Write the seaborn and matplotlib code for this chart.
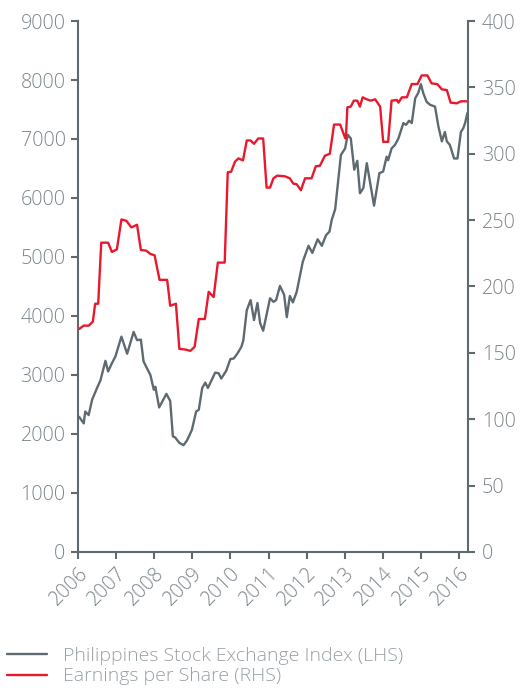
import seaborn as sns
import pandas as pd
import matplotlib.pyplot as plt
from matplotlib.lines import Line2D

# Philippines Stock Exchange Index (LHS) -- decimal year, index level
psei_year = [2006.03, 2006.15, 2006.19, 2006.28, 2006.37, 2006.50, 2006.59, 2006.72, 2006.79,
             2006.89, 2006.98, 2007.14, 2007.29, 2007.46, 2007.55, 2007.65, 2007.72, 2007.90,
             2007.99, 2008.03, 2008.13, 2008.32, 2008.42, 2008.49, 2008.55, 2008.66, 2008.77,
             2008.86, 2008.99, 2009.10, 2009.17, 2009.26, 2009.34, 2009.41, 2009.60, 2009.69,
             2009.76, 2009.89, 2010.00, 2010.09, 2010.20, 2010.29, 2010.34, 2010.43, 2010.53,
             2010.62, 2010.71, 2010.78, 2010.86, 2011.04, 2011.13, 2011.20, 2011.30, 2011.41,
             2011.48, 2011.56, 2011.64, 2011.74, 2011.90, 2012.05, 2012.15, 2012.29, 2012.40,
             2012.51, 2012.60, 2012.66, 2012.75, 2012.90, 2013.01, 2013.08, 2013.16, 2013.25,
             2013.33, 2013.40, 2013.49, 2013.58, 2013.77, 2013.91, 2014.01, 2014.10, 2014.14,
             2014.23, 2014.32, 2014.41, 2014.54, 2014.61, 2014.69, 2014.76, 2014.85, 2014.93,
             2015.00, 2015.06, 2015.15, 2015.24, 2015.37, 2015.46, 2015.55, 2015.63, 2015.68,
             2015.76, 2015.87, 2015.96, 2016.05, 2016.11, 2016.16, 2016.22]
psei_value = [2290, 2180, 2380, 2320, 2580, 2780, 2910, 3240, 3060,
              3200, 3310, 3650, 3360, 3730, 3590, 3600, 3230, 3000,
              2750, 2800, 2450, 2680, 2560, 1960, 1940, 1850, 1810,
              1890, 2070, 2380, 2410, 2780, 2870, 2780, 3040, 3030,
              2940, 3070, 3270, 3280, 3380, 3480, 3590, 4100, 4270,
              3930, 4220, 3880, 3750, 4300, 4240, 4270, 4510, 4360,
              3980, 4340, 4230, 4410, 4920, 5190, 5070, 5300, 5190,
              5370, 5430, 5630, 5810, 6730, 6840, 7070, 7010, 6480,
              6630, 6080, 6170, 6590, 5870, 6420, 6450, 6700, 6640,
              6840, 6900, 7010, 7270, 7240, 7310, 7270, 7690, 7780,
              7930, 7780, 7630, 7580, 7550, 7210, 6960, 7120, 6960,
              6900, 6670, 6670, 7120, 7180, 7270, 7440]

# Earnings per Share (RHS)
eps_year = [2006.03, 2006.15, 2006.28, 2006.39, 2006.45, 2006.53, 2006.61, 2006.79, 2006.89,
            2007.02, 2007.14, 2007.27, 2007.40, 2007.55, 2007.65, 2007.79, 2007.90, 2008.01,
            2008.14, 2008.34, 2008.42, 2008.57, 2008.66, 2008.82, 2008.95, 2009.06, 2009.17,
            2009.33, 2009.43, 2009.56, 2009.67, 2009.85, 2009.93, 2010.02, 2010.12, 2010.21,
            2010.33, 2010.43, 2010.53, 2010.62, 2010.73, 2010.86, 2010.95, 2011.04, 2011.13,
            2011.23, 2011.43, 2011.56, 2011.65, 2011.74, 2011.85, 2011.96, 2012.13, 2012.24,
            2012.35, 2012.48, 2012.61, 2012.72, 2012.88, 2013.01, 2013.03, 2013.07, 2013.16,
            2013.24, 2013.33, 2013.40, 2013.47, 2013.58, 2013.68, 2013.80, 2013.93, 2014.01,
            2014.14, 2014.23, 2014.37, 2014.41, 2014.50, 2014.63, 2014.76, 2014.91, 2015.02,
            2015.17, 2015.28, 2015.43, 2015.55, 2015.68, 2015.78, 2015.94, 2016.05, 2016.20]
eps_value = [168, 170.5, 170.5, 173.5, 187, 187, 233, 233, 226,
             228, 250.5, 249.5, 244.5, 246.5, 227.5, 227, 224.5, 223.5,
             205, 205, 185.5, 187, 153, 152.5, 151.5, 154.5, 175.5,
             175.5, 196, 192, 218, 218, 286, 286.5, 294, 296.5,
             295, 310, 310, 307.5, 311.5, 311.5, 274.5, 274.5, 281.5,
             283.5, 283, 281.5, 277.5, 277, 272.5, 281.5, 281.5, 290.5,
             291, 298.5, 300, 322, 322, 312, 311.5, 335, 335.5,
             340, 340, 335.5, 342.5, 341, 340, 341, 335.5, 309,
             309, 340, 340.5, 338.5, 342.5, 342.5, 352.5, 352.5, 359,
             359, 353, 352.5, 348.5, 348, 338.5, 338, 339.5, 339.5]

year_ticks = list(range(2006, 2017))
legend_labels = ["Philippines Stock Exchange Index (LHS)", "Earnings per Share (RHS)"]

grey = "#5e6970"
red = "#e8192c"
label_grey = "#7b858b"
legend_grey = "#98a1a7"

sns.set_style("white")
plt.rcParams["font.family"] = ["Open Sans", "DejaVu Sans"]
plt.rcParams["font.weight"] = "light"

fig = plt.figure(figsize=(5.2, 6.91), dpi=100)
ax = fig.add_axes([0.15, 0.2012, 0.75, 0.7684])
ax2 = ax.twinx()

psei = pd.DataFrame({"year": psei_year, "value": psei_value})
eps = pd.DataFrame({"year": eps_year, "value": eps_value})

sns.lineplot(data=psei, x="year", y="value", ax=ax, color=grey, linewidth=1.7)
sns.lineplot(data=eps, x="year", y="value", ax=ax2, color=red, linewidth=1.7)

ax.set_xlim(2006, 2016.236)
ax.set_ylim(0, 9000)
ax2.set_ylim(0, 400)
ax.set_yticks(range(0, 9001, 1000))
ax2.set_yticks(range(0, 401, 50))
ax.set_xticks(year_ticks)
ax.set_xticklabels([str(y) for y in year_ticks], rotation=45, ha="right",
                   rotation_mode="anchor")
ax.set_xlabel("")
ax.set_ylabel("")
ax2.set_ylabel("")

for a in (ax, ax2):
    a.spines["top"].set_visible(False)
    for sp in a.spines.values():
        sp.set_color(grey)
        sp.set_linewidth(1.5)
    a.tick_params(colors=grey, labelcolor=label_grey, labelsize=14.2,
                  width=1.5, length=5, direction="out")
ax.spines["right"].set_visible(False)
ax2.spines["left"].set_visible(False)
ax2.spines["bottom"].set_visible(False)
ax.tick_params(axis="y", left=True, pad=4)
ax.tick_params(axis="x", bottom=True, pad=3)
ax2.tick_params(axis="y", right=True, pad=5)

handles = [Line2D([], [], color=grey, linewidth=1.7),
           Line2D([], [], color=red, linewidth=1.7)]
leg = fig.legend(handles, legend_labels,
                 loc="upper left", bbox_to_anchor=(0.0, 0.0745), frameon=False,
                 fontsize=14, handlelength=2.05, handletextpad=0.82,
                 labelspacing=0.15, borderaxespad=0.0, borderpad=0.36)
for t in leg.get_texts():
    t.set_color(legend_grey)

fig.savefig("out.png", dpi=100)
